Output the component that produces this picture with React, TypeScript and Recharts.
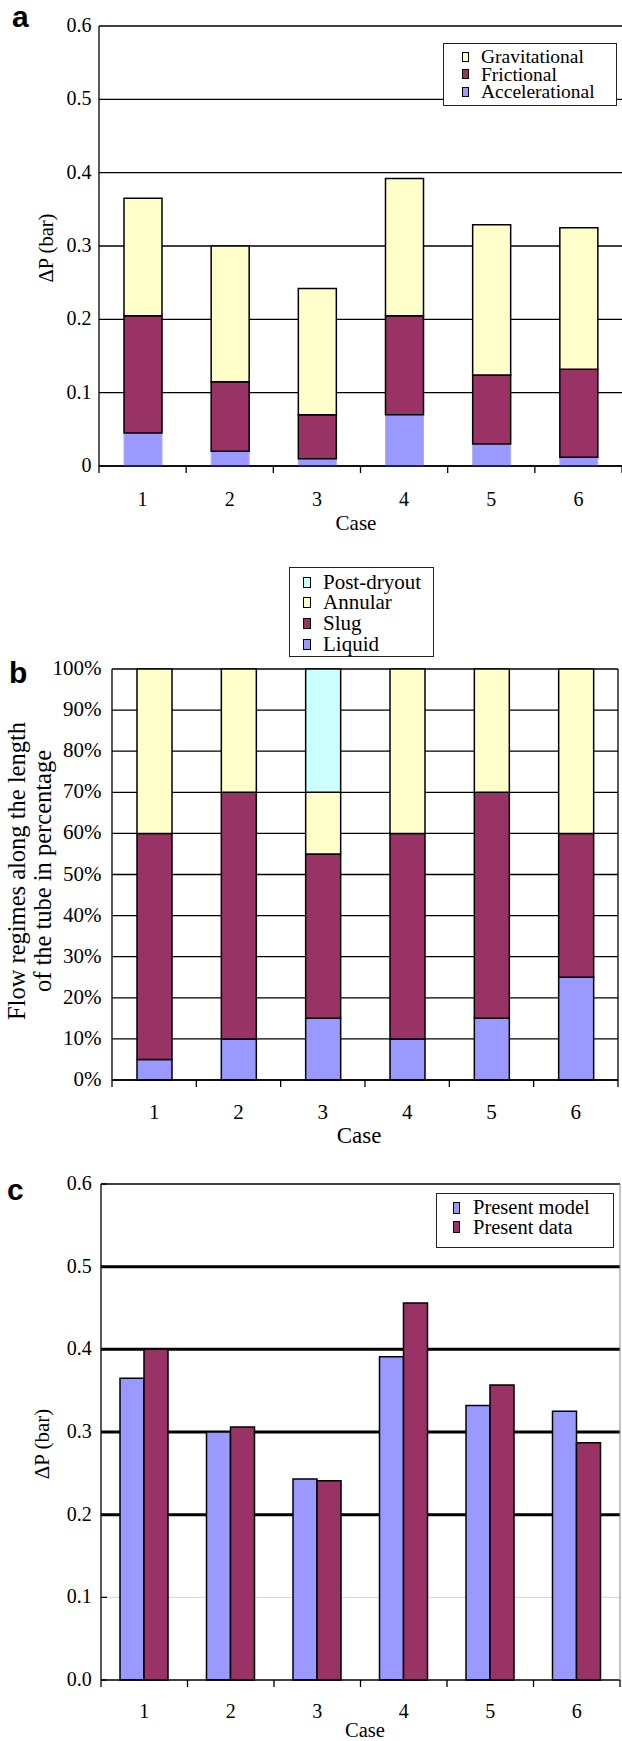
import React from 'react'
import { BarChart, Bar, XAxis, YAxis, CartesianGrid, Legend } from 'recharts'

const SERIF = '"Liberation Serif", Tinos, "Times New Roman", Times, "DejaVu Serif", "Noto Serif", serif'
const SANS = '"Liberation Sans", Arial, "DejaVu Sans", sans-serif'

const BLUE = '#9999FF'
const PLUM = '#993366'
const YELLOW = '#FFFFCC'
const CYAN = '#CCFFFF'

const cases = ['1', '2', '3', '4', '5', '6']

// (a) pressure drop split into its parts, bar
const accelerational = [0.045, 0.02, 0.01, 0.07, 0.03, 0.012]
const frictional = [0.16, 0.095, 0.06, 0.135, 0.094, 0.12]
const gravitational = [0.16, 0.185, 0.172, 0.187, 0.205, 0.193]
const dpTicks = [0, 0.1, 0.2, 0.3, 0.4, 0.5, 0.6]

// (b) flow regimes along the tube, %
const liquid = [5, 10, 15, 10, 15, 25]
const slug = [55, 60, 40, 50, 55, 35]
const annular = [40, 30, 15, 40, 30, 40]
const postDryout = [0, 0, 30, 0, 0, 0]
const pctTicks = [0, 10, 20, 30, 40, 50, 60, 70, 80, 90, 100]

// (c) model vs measured pressure drop, bar
const presentModel = [0.365, 0.3, 0.243, 0.391, 0.332, 0.325]
const presentData = [0.4, 0.306, 0.241, 0.456, 0.357, 0.287]

const dataA = cases.map((c, i) => ({
  case: c,
  accelerational: accelerational[i],
  frictional: frictional[i],
  gravitational: gravitational[i],
}))
const dataB = cases.map((c, i) => ({
  case: c,
  liquid: liquid[i],
  slug: slug[i],
  annular: annular[i],
  postDryout: postDryout[i],
}))
const dataC = cases.map((c, i) => ({ case: c, model: presentModel[i], data: presentData[i] }))

// x ticks: label at band centre, tick marks at band edges
function makeCaseTick(band: number, labelDy: number, fontSize: number) {
  return (props: any) => {
    const { x, y, payload, index } = props
    return (
      <g>
        <line x1={x - band / 2} y1={y} x2={x - band / 2} y2={y + 7} stroke="#000" strokeWidth={1.3} />
        {index === cases.length - 1 && (
          <line x1={x + band / 2} y1={y} x2={x + band / 2} y2={y + 7} stroke="#000" strokeWidth={1.3} />
        )}
        <text x={x} y={y + labelDy} textAnchor="middle" dominantBaseline="central" fontSize={fontSize} fontFamily={SERIF} fill="#000">
          {payload.value}
        </text>
      </g>
    )
  }
}

function makeValueTick(gap: number, fontSize: number, fmt: (v: number) => string, inner = 0) {
  return (props: any) => {
    const { x, y, payload } = props
    return (
      <g>
        {inner > 0 && <line x1={x} y1={y} x2={x + inner} y2={y} stroke="#000" strokeWidth={1.3} />}
        <text x={x - gap} y={y - 1} textAnchor="end" dominantBaseline="central" fontSize={fontSize} fontFamily={SERIF} fill="#000">
          {fmt(payload.value)}
        </text>
      </g>
    )
  }
}

type LegendItem = { name: string; color: string }

function makeBoxLegend(
  items: LegendItem[],
  o: { w: number; h: number; row: number; padTop: number; swLeft: number; swW: number; swH: number; gap: number; fontSize: number }
) {
  return () => (
    <div
      style={{
        boxSizing: 'border-box',
        width: o.w,
        height: o.h,
        border: '1px solid #222',
        background: '#fff',
        paddingTop: o.padTop,
        fontFamily: SERIF,
        fontSize: o.fontSize,
        color: '#000',
      }}
    >
      {items.map((it) => (
        <div key={it.name} style={{ display: 'flex', alignItems: 'center', height: o.row }}>
          <span
            style={{
              display: 'inline-block',
              flex: 'none',
              boxSizing: 'border-box',
              width: o.swW,
              height: o.swH,
              marginLeft: o.swLeft,
              marginRight: o.gap,
              border: '1.3px solid #000',
              background: it.color,
            }}
          />
          <span style={{ whiteSpace: 'nowrap', lineHeight: `${o.row}px` }}>{it.name}</span>
        </div>
      ))}
    </div>
  )
}

const axisStroke = { stroke: '#000', strokeWidth: 1.3 }

function ChartA() {
  const band = (622 - 99) / 6
  return (
    <BarChart width={622} height={516} data={dataA} margin={{ top: 26, right: 0, bottom: 0, left: 0 }}>
      <CartesianGrid vertical={false} stroke="#000" strokeWidth={1.3} />
      <XAxis dataKey="case" height={50} interval={0} tickLine={false} tickSize={0} tickMargin={0} axisLine={axisStroke} tick={makeCaseTick(band, 33, 20)} />
      <YAxis
        type="number"
        domain={[0, 0.6]}
        ticks={dpTicks}
        interval={0}
        width={99}
        tickLine={false}
        tickSize={0}
        tickMargin={0}
        axisLine={axisStroke}
        tick={makeValueTick(7.5, 20, (v) => (v === 0 ? '0' : v.toFixed(1)))}
      />
      <Legend
        layout="vertical"
        align="center"
        verticalAlign="middle"
        wrapperStyle={{ left: 443, top: 43, width: 174, height: 63 }}
        content={makeBoxLegend(
          [
            { name: 'Gravitational', color: YELLOW },
            { name: 'Frictional', color: PLUM },
            { name: 'Accelerational', color: BLUE },
          ],
          { w: 174, h: 63, row: 17.7, padTop: 3.9, swLeft: 18, swW: 7, swH: 10, gap: 12, fontSize: 19.5 }
        )}
      />
      <Bar dataKey="accelerational" name="Accelerational" stackId="s" fill={BLUE} stroke="#aaaaff" strokeWidth={1} barSize={38} isAnimationActive={false} />
      <Bar dataKey="frictional" name="Frictional" stackId="s" fill={PLUM} stroke="#000" strokeWidth={1.5} barSize={38} isAnimationActive={false} />
      <Bar dataKey="gravitational" name="Gravitational" stackId="s" fill={YELLOW} stroke="#000" strokeWidth={1.5} barSize={38} isAnimationActive={false} />
    </BarChart>
  )
}

function ChartB() {
  const band = (618 - 112) / 6
  return (
    <BarChart width={622} height={580} data={dataB} margin={{ top: 119, right: 3, bottom: 0, left: 0 }}>
      <CartesianGrid vertical={false} stroke="#000" strokeWidth={1.3} />
      <XAxis dataKey="case" height={50} interval={0} tickLine={false} tickSize={0} tickMargin={0} axisLine={axisStroke} tick={makeCaseTick(band, 31.5, 21)} />
      <YAxis
        type="number"
        domain={[0, 100]}
        ticks={pctTicks}
        interval={0}
        width={112}
        tickLine={false}
        tickSize={0}
        tickMargin={0}
        axisLine={axisStroke}
        tick={makeValueTick(10.5, 21, (v) => `${v}%`)}
      />
      <YAxis yAxisId="r" orientation="right" type="number" domain={[0, 100]} width={1} tick={false} tickLine={false} axisLine={axisStroke} />
      <Legend
        layout="vertical"
        align="center"
        verticalAlign="middle"
        wrapperStyle={{ left: 289, top: 17, width: 145, height: 90 }}
        content={makeBoxLegend(
          [
            { name: 'Post-dryout', color: CYAN },
            { name: 'Annular', color: YELLOW },
            { name: 'Slug', color: PLUM },
            { name: 'Liquid', color: BLUE },
          ],
          { w: 145, h: 90, row: 20.7, padTop: 3.7, swLeft: 13, swW: 8, swH: 11, gap: 12, fontSize: 21 }
        )}
      />
      <Bar dataKey="liquid" name="Liquid" stackId="s" fill={BLUE} stroke="#000" strokeWidth={1.5} barSize={35} isAnimationActive={false} />
      <Bar dataKey="slug" name="Slug" stackId="s" fill={PLUM} stroke="#000" strokeWidth={1.5} barSize={35} isAnimationActive={false} />
      <Bar dataKey="annular" name="Annular" stackId="s" fill={YELLOW} stroke="#000" strokeWidth={1.5} barSize={35} isAnimationActive={false} />
      <Bar dataKey="postDryout" name="Post-dryout" stackId="s" fill={CYAN} stroke="#000" strokeWidth={1.5} barSize={35} isAnimationActive={false} />
    </BarChart>
  )
}

function ChartC() {
  const band = (620 - 101) / 6
  return (
    <BarChart width={622} height={580} data={dataC} margin={{ top: 34, right: 1, bottom: 0, left: 0 }} barGap={0}>
      <CartesianGrid vertical={false} horizontalValues={[0.1]} stroke="#d4d4d4" strokeWidth={1} />
      <CartesianGrid vertical={false} horizontalValues={[0.2, 0.3, 0.4, 0.5]} stroke="#000" strokeWidth={3} />
      <CartesianGrid vertical={false} horizontalValues={[0.6]} stroke="#000" strokeWidth={1.3} />
      <XAxis dataKey="case" height={50} interval={0} tickLine={false} tickSize={0} tickMargin={0} axisLine={axisStroke} tick={makeCaseTick(band, 30.5, 20)} />
      <YAxis
        type="number"
        domain={[0, 0.6]}
        ticks={dpTicks}
        interval={0}
        width={101}
        tickLine={false}
        tickSize={0}
        tickMargin={0}
        axisLine={axisStroke}
        tick={makeValueTick(9.3, 20, (v) => v.toFixed(1), 6)}
      />
      <YAxis yAxisId="r" orientation="right" type="number" domain={[0, 0.6]} width={1} tick={false} tickLine={false} axisLine={{ stroke: '#888', strokeWidth: 1 }} />
      <Legend
        layout="vertical"
        align="center"
        verticalAlign="middle"
        wrapperStyle={{ left: 436, top: 43, width: 178, height: 55 }}
        content={makeBoxLegend(
          [
            { name: 'Present model', color: BLUE },
            { name: 'Present data', color: PLUM },
          ],
          { w: 178, h: 55, row: 19.4, padTop: 4.3, swLeft: 16, swW: 7, swH: 12, gap: 13, fontSize: 20.5 }
        )}
      />
      <Bar dataKey="model" name="Present model" fill={BLUE} stroke="#000" strokeWidth={1.5} barSize={24} isAnimationActive={false} />
      <Bar dataKey="data" name="Present data" fill={PLUM} stroke="#000" strokeWidth={1.5} barSize={24} isAnimationActive={false} />
    </BarChart>
  )
}

export default function App() {
  return (
    <div style={{ position: 'absolute', left: 0, top: 0, width: 622, height: 1741, background: '#fff', overflow: 'hidden' }}>
      <div style={{ position: 'absolute', left: 0, top: 0 }}>
        <ChartA />
      </div>
      <div style={{ position: 'absolute', left: 0, top: 550 }}>
        <ChartB />
      </div>
      <div style={{ position: 'absolute', left: 0, top: 1150 }}>
        <ChartC />
      </div>
      <svg width={622} height={1741} style={{ position: 'absolute', left: 0, top: 0, pointerEvents: 'none' }}>
        <g fontFamily={SANS} fontWeight="bold" fontSize={30} fill="#000">
          <text x={12} y={27}>a</text>
          <text x={9} y={683}>b</text>
          <text x={7} y={1200}>c</text>
        </g>
        <g fontFamily={SERIF} fill="#000" textAnchor="middle" dominantBaseline="central">
          <text fontSize={20.5} transform="translate(45.6,248) rotate(-90)">ΔP (bar)</text>
          <text fontSize={21} x={356} y={523}>Case</text>
          <text fontSize={24.5} transform="translate(16,871) rotate(-90)">Flow regimes along the length</text>
          <text fontSize={24.5} transform="translate(42,871) rotate(-90)">of the tube in percentage</text>
          <text fontSize={23} x={359} y={1135}>Case</text>
          <text fontSize={21} transform="translate(41.6,1444) rotate(-90)">ΔP (bar)</text>
          <text fontSize={20.5} x={365} y={1730}>Case</text>
        </g>
      </svg>
    </div>
  )
}
